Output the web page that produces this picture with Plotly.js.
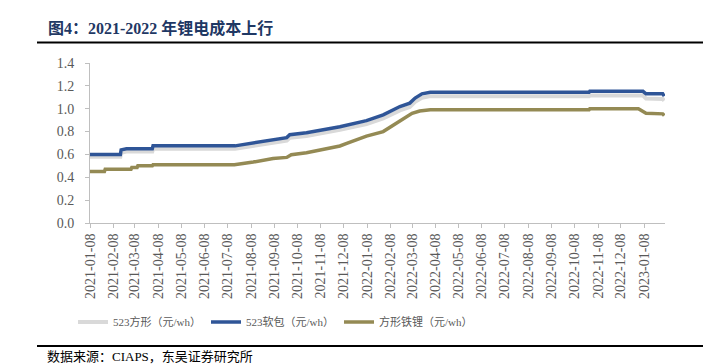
<!DOCTYPE html>
<html>
<head>
<meta charset="utf-8">
<script src="https://cdn.plot.ly/plotly-3.0.1.min.js"></script>
<style>html,body{margin:0;padding:0;background:#fff;}#chart{width:703px;height:364px;}</style>
</head>
<body>
<div id="chart"></div>
<script>
// Series names
const seriesNames = ['523方形（元/wh）', '523软包（元/wh）', '方形铁锂（元/wh）'];

// 523方形 (gray)
const squareDates = ['2021-01-08','2021-02-17','2021-02-18','2021-02-25','2021-03-31','2021-04-01','2021-07-18','2021-08-02','2021-08-24','2021-09-11','2021-09-24','2021-09-28','2021-10-20','2021-12-03','2022-01-07','2022-01-29','2022-02-20','2022-03-05','2022-03-12','2022-03-21','2022-04-01','2022-10-27','2022-10-28','2023-01-06','2023-01-10','2023-02-01','2023-02-03'];
const squareValues = [0.58,0.58,0.615,0.625,0.625,0.65,0.65,0.665,0.685,0.71,0.72,0.745,0.76,0.815,0.865,0.915,0.985,1.015,1.06,1.095,1.11,1.11,1.115,1.115,1.09,1.085,1.07];

// 523软包 (blue)
const pouchDates = ['2021-01-08','2021-02-17','2021-02-18','2021-02-25','2021-03-31','2021-04-01','2021-07-18','2021-08-02','2021-08-24','2021-09-11','2021-09-24','2021-09-28','2021-10-20','2021-12-03','2022-01-07','2022-01-29','2022-02-20','2022-03-05','2022-03-12','2022-03-21','2022-04-01','2022-10-27','2022-10-28','2023-01-06','2023-01-10','2023-02-01','2023-02-03'];
const pouchValues = [0.60,0.60,0.64,0.65,0.65,0.675,0.675,0.69,0.71,0.735,0.747,0.772,0.79,0.843,0.896,0.946,1.019,1.049,1.093,1.13,1.143,1.143,1.152,1.152,1.13,1.13,1.11];

// 方形铁锂 (olive)
const lfpDates = ['2021-01-08','2021-01-27','2021-01-28','2021-03-03','2021-03-04','2021-03-11','2021-03-12','2021-03-31','2021-04-01','2021-07-17','2021-08-11','2021-09-06','2021-09-24','2021-09-30','2021-10-20','2021-12-03','2021-12-12','2022-01-07','2022-01-29','2022-02-16','2022-03-08','2022-03-18','2022-04-01','2022-10-27','2022-10-28','2022-12-31','2023-01-06','2023-01-10','2023-02-01','2023-02-03'];
const lfpValues = [0.45,0.45,0.47,0.47,0.485,0.485,0.50,0.50,0.51,0.51,0.533,0.565,0.574,0.598,0.615,0.674,0.697,0.76,0.80,0.873,0.96,0.98,0.99,0.99,1.0,1.0,0.98,0.96,0.955,0.94];

const yTickVals = [0.0,0.2,0.4,0.6,0.8,1.0,1.2,1.4];
const yTickText = ['0.0','0.2','0.4','0.6','0.8','1.0','1.2','1.4'];

const titleText = '图4：2021-2022 年锂电成本上行';
const sourceText = '数据来源：CIAPS，东吴证券研究所';

const serif = '"Liberation Serif", "Times New Roman", "Noto Sans CJK SC", serif';

const traces = [
  {x: squareDates, y: squareValues, name: seriesNames[0], type: 'scatter', mode: 'lines', line: {color: '#d9d9d9', width: 4}},
  {x: pouchDates, y: pouchValues, name: seriesNames[1], type: 'scatter', mode: 'lines', line: {color: '#2f5597', width: 3.5}},
  {x: lfpDates, y: lfpValues, name: seriesNames[2], type: 'scatter', mode: 'lines', line: {color: '#948a54', width: 3.5}}
];

const W = 703, H = 364, L = 90, R = 38, T = 63, B = 141;
const px2x = p => (p - L) / (W - L - R);
const py2y = p => (H - B - p) / (H - T - B);

const layout = {
  width: W, height: H,
  margin: {l: L, r: R, t: T, b: B},
  paper_bgcolor: '#fff', plot_bgcolor: '#fff',
  font: {family: serif, color: '#595959', size: 14},
  title: {text: '<b>' + titleText + '</b>', font: {family: serif, size: 16, color: '#1f3864'},
          x: 48 / W, xref: 'container', xanchor: 'left', y: 1 - 28 / H, yref: 'container', yanchor: 'middle'},
  showlegend: true,
  legend: {orientation: 'h', x: px2x(73), xanchor: 'left', y: py2y(322), yanchor: 'middle',
           font: {family: serif, size: 11, color: '#595959'}, bgcolor: 'rgba(0,0,0,0)',
           entrywidth: 88, entrywidthmode: 'pixels', tracegroupgap: 0, itemwidth: 30},
  xaxis: {type: 'date', range: ['2021-01-08', '2023-02-04'], tick0: '2021-01-08', dtick: 'M1',
          tickformat: '%Y-%m-%d', tickangle: -90, showgrid: false, zeroline: false,
          showline: true, linecolor: '#bfbfbf', linewidth: 1, ticks: 'outside', ticklen: 4,
          tickcolor: '#bfbfbf', tickfont: {family: serif, size: 14, color: '#595959'}},
  yaxis: {range: [0, 1.4], tickvals: yTickVals, ticktext: yTickText, showgrid: false, zeroline: false,
          showline: true, linecolor: '#bfbfbf', linewidth: 1, ticks: 'outside', ticklen: 4,
          tickcolor: '#bfbfbf', ticklabelstandoff: 8, tickfont: {family: serif, size: 14, color: '#595959'}},
  shapes: [
    {type: 'line', xref: 'paper', yref: 'paper', x0: px2x(37), x1: px2x(703), y0: py2y(42.5), y1: py2y(42.5), line: {color: '#000', width: 2}},
    {type: 'line', xref: 'paper', yref: 'paper', x0: px2x(37), x1: px2x(703), y0: py2y(346), y1: py2y(346), line: {color: '#000', width: 2}}
  ],
  annotations: [
    {text: sourceText, xref: 'paper', yref: 'paper', x: px2x(45), xanchor: 'left', y: py2y(356.5), yanchor: 'middle',
     showarrow: false, font: {family: serif, size: 13, color: '#000'}}
  ]
};

Plotly.newPlot('chart', traces, layout, {staticPlot: true, displayModeBar: false});
</script>
</body>
</html>
